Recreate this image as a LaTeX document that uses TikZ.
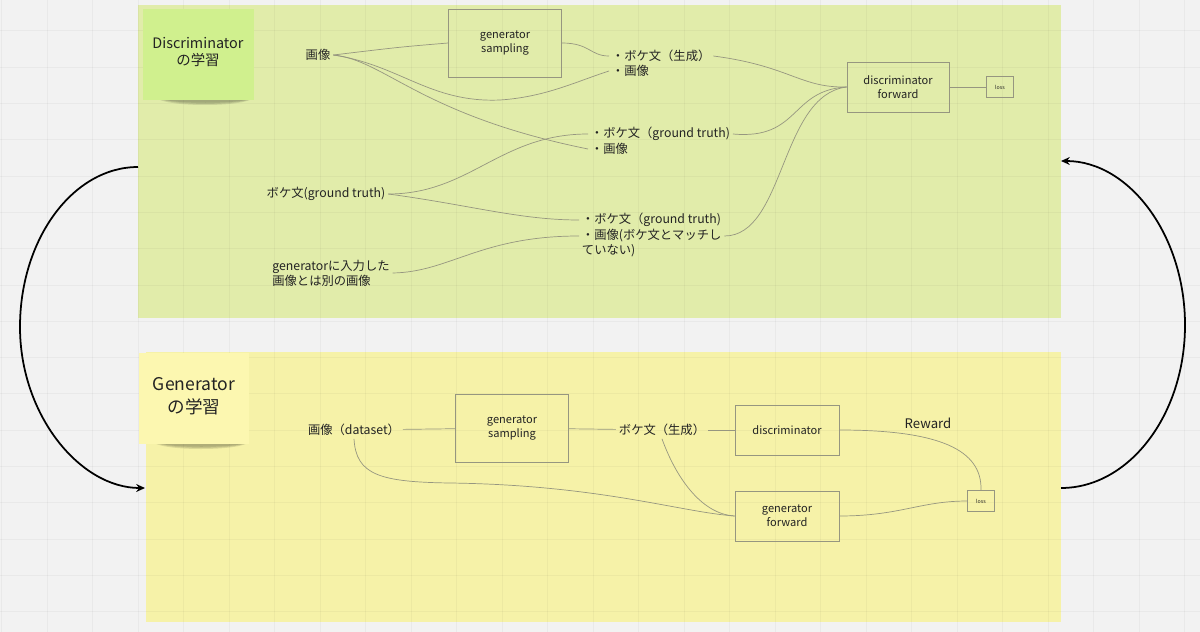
\documentclass[tikz,border=0pt]{standalone}
\usepackage{fontspec}
\setmainfont{Noto Sans CJK JP}
\usetikzlibrary{arrows.meta}
\definecolor{canvas}{RGB}{242,242,242}
\definecolor{dpanel}{RGB}{225,236,170}
\definecolor{gpanel}{RGB}{246,242,168}
\definecolor{dnote}{RGB}{208,240,142}
\definecolor{gnote}{RGB}{252,247,176}
\definecolor{wirecol}{RGB}{150,150,128}
\definecolor{inkcol}{RGB}{35,35,35}

\begin{document}
\begin{tikzpicture}[x=0.02cm,y=-0.02cm,
  box/.style={draw=wirecol,line width=0.4pt,text=inkcol,align=center,inner sep=1pt,font=\fontsize{6.3pt}{8pt}\selectfont},
  smallbox/.style={box,minimum width=0.53cm,minimum height=0.43cm,font=\fontsize{3pt}{4pt}\selectfont},
  txt/.style={text=inkcol,inner sep=1.5pt,font=\fontsize{7pt}{8.6pt}\selectfont},
  bullet/.style={txt,anchor=west},
  wire/.style={draw=wirecol,line width=0.4pt},
  gridline/.style={draw=black,opacity=0.035,line width=0.4pt},
  cyclearrow/.style={draw=black,line width=1pt,-{Stealth[length=5pt,width=4.5pt]}}]
    \useasboundingbox (0,0) rectangle (1200,632);
    \fill[canvas] (0,0) rectangle (1200,632);
    \fill[dpanel] (138,5) rectangle (1061,318);
    \fill[gpanel] (146,352) rectangle (1061,622);
    \foreach \gx in {1.5,47,...,1200} \draw[gridline] (\gx,0) -- (\gx,632);
    \foreach \gy in {30.8,67.1,...,632} \draw[gridline] (0,\gy) -- (1200,\gy);

    \foreach \s in {0,1.5,3} \fill[black,opacity=.1] (158+2*\s,99) .. controls (172,107-\s) and (238,107-\s) .. (252-\s,99) -- cycle;
    \fill[dnote] (143,9) rectangle (254,100);
    \node[text=inkcol,align=center,font=\fontsize{8.2pt}{10.2pt}\selectfont] (dtitle) at (198,52) {Discriminator\\の学習};
    \foreach \s in {0,1.5,3} \fill[black,opacity=.1] (154+2*\s,443) .. controls (168,451-\s) and (234,451-\s) .. (248-\s,443) -- cycle;
    \fill[gnote] (139,353) rectangle (249,444);
    \node[text=inkcol,align=center,font=\fontsize{10pt}{13pt}\selectfont] (gtitle) at (194,396) {Generator\\の学習};

    \node[txt] (img) at (318,55) {画像};
    \node[box,minimum width=2.26cm,minimum height=1.36cm] (gsamp) at (505,43) {generator\\sampling};
    \node[bullet] (genA) at (609,56) {・ボケ文（生成）};
    \node[bullet] (genB) at (609,71) {・画像};
    \node[box,minimum width=2.04cm,minimum height=1cm] (dfwd) at (898,87) {discriminator\\forward};
    \node[smallbox] (dloss) at (1000,87) {loss};
    \node[bullet] (gtA) at (588,134) {・ボケ文（ground truth)};
    \node[bullet] (gtB) at (588,149) {・画像};
    \node[txt] (gt) at (326,194) {ボケ文(ground truth)};
    \node[bullet] (mmA) at (579,220) {・ボケ文（ground truth)};
    \node[bullet] (mmB) at (579,236) {・画像(ボケ文とマッチし};
    \node[bullet] (mmC) at (579,251) {ていない)};
    \node[txt,align=left] (other) at (331,273) {generatorに入力した\\画像とは別の画像};

    \draw[wire] (img.east) .. controls (400,47) .. (gsamp.west);
    \draw[wire] (gsamp.east) .. controls (590,43) and (590,56) .. (genA.west);
    \draw[wire] (img.east) .. controls (400,65) and (430,103) .. (500,100) .. controls (545,97) and (575,82) .. (genB.west);
    \draw[wire] (img.east) .. controls (385,60) and (420,115) .. (gtB.west);
    \draw[wire] (genA.east) .. controls (790,66) and (800,88) .. (dfwd.west);
    \draw[wire] (gtA.east) .. controls (800,140) and (790,90) .. (dfwd.west);
    \draw[wire] (mmB.east) .. controls (785,236) and (780,95) .. (dfwd.west);
    \draw[wire] (dfwd) -- (dloss);
    \draw[wire] (gt.east) .. controls (470,194) and (500,134) .. (gtA.west);
    \draw[wire] (gt.east) .. controls (470,205) and (520,220) .. (mmA.west);
    \draw[wire] (other.east) .. controls (450,272) and (480,236) .. (mmB.west);

    \node[txt] (ds) at (354,430) {画像（dataset）};
    \node[box,minimum width=2.26cm,minimum height=1.36cm] (bsamp) at (512,428) {generator\\sampling};
    \node[txt] (bgen) at (662,430) {ボケ文（生成）};
    \node[box,minimum width=2.08cm,minimum height=1cm] (disc) at (787,430) {discriminator};
    \node[txt,font=\fontsize{7.5pt}{9pt}\selectfont] (reward) at (928,423) {Reward};
    \node[box,minimum width=2.08cm,minimum height=1cm] (gfwd) at (787,516) {generator\\forward};
    \node[smallbox] (gloss) at (981,501) {loss};

    \draw[wire] (ds) -- (bsamp);
    \draw[wire] (bsamp) -- (bgen);
    \draw[wire] (bgen) -- (disc);
    \draw[wire] (disc.east) .. controls (940,430) and (982,450) .. (gloss.north);
    \draw[wire] (bgen.south) .. controls (675,475) and (700,514) .. (gfwd.west);
    \draw[wire] (ds.south) .. controls (356,475) and (380,482) .. (450,483) .. controls (600,485) and (680,512) .. (gfwd.west);
    \draw[wire] (gfwd.east) .. controls (900,516) and (920,501) .. (gloss.west);

    \coordinate (dleft) at (138,167);
    \coordinate (gleft) at (145,488);
    \coordinate (gright) at (1061,488);
    \coordinate (dright) at (1061,161);
    \draw[cyclearrow] (dleft) .. controls (73,167) and (20,239) .. (20,327) .. controls (20,415) and (80,488) .. (gleft);
    \draw[cyclearrow] (gright) .. controls (1129,488) and (1185,415) .. (1185,325) .. controls (1185,235) and (1129,161) .. (dright);
\end{tikzpicture}
\end{document}
